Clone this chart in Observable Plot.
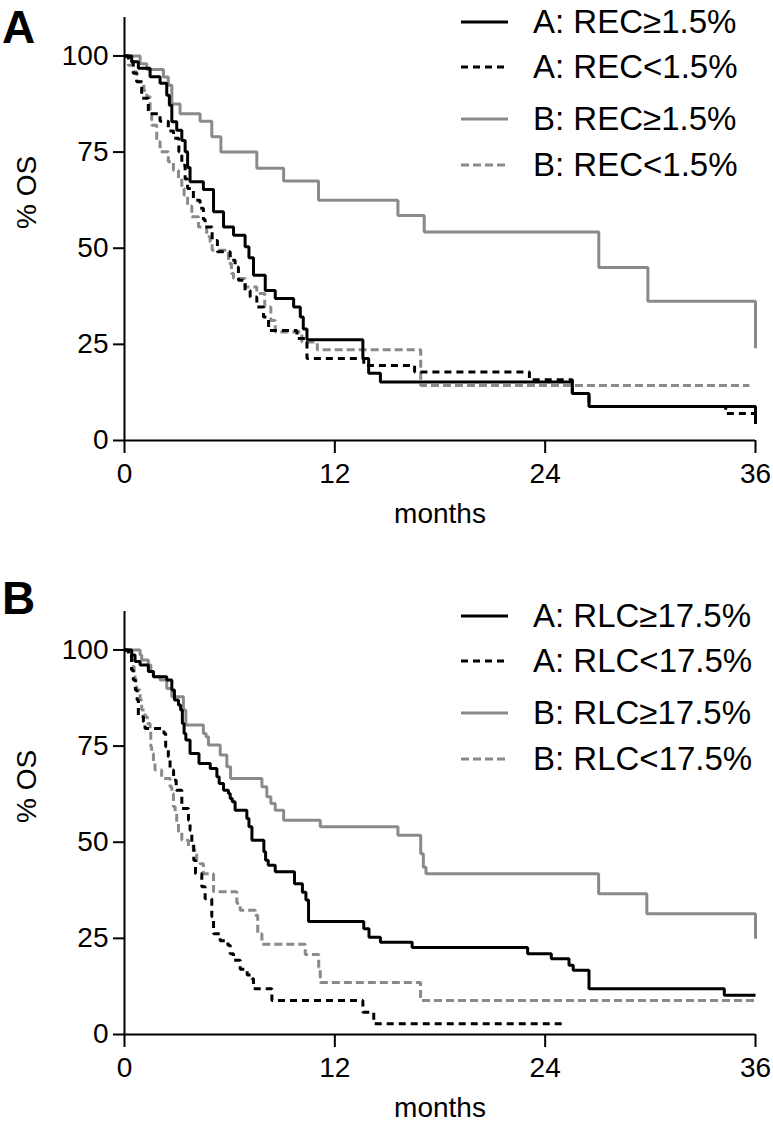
<!DOCTYPE html>
<html><head><meta charset="utf-8">
<script src="https://cdn.jsdelivr.net/npm/d3@7"></script>
<script src="https://cdn.jsdelivr.net/npm/@observablehq/plot@0.6"></script>
<style>
html,body{margin:0;padding:0;background:#fff;}
#wrap{position:relative;width:773px;height:1126px;overflow:hidden;font-family:"Liberation Sans",Arial,Helvetica,sans-serif;color:#000;}
#wrap > svg{display:block;}
.lg{position:absolute;left:533px;font-size:33px;line-height:40px;height:40px;white-space:nowrap;color:#000;}
.lbl{position:absolute;left:2px;font-weight:bold;font-size:46px;line-height:normal;color:#000;}
</style></head>
<body><div id="wrap"></div>
<script>
// ---- tick labels and legend labels ----
const xTicks = [0, 12, 24, 36];
const yTicks = [0, 25, 50, 75, 100];
const legendA = ["A: REC\u22651.5%", "A: REC<1.5%", "B: REC\u22651.5%", "B: REC<1.5%"];
const legendB = ["A: RLC\u226517.5%", "A: RLC<17.5%", "B: RLC\u226517.5%", "B: RLC<17.5%"];

// ---- Panel A: [months, % OS] step points ----
const aRecHi = [[0,100],[0.41,98.5],[0.79,96.8],[1.46,94.6],[2.03,92.9],[2.41,89.8],[2.56,87.2],[2.7,82.9],[2.98,80.7],[3.27,78],[3.46,75.1],[3.6,71],[3.74,67.3],[4.5,65.3],[5.08,59.5],[5.65,55.5],[6.22,53.4],[6.88,50.4],[7.1,47.5],[7.36,43],[8.03,39],[8.6,36.9],[9.65,34.7],[10.03,32.1],[10.2,29],[10.41,26.2],[13.6,21.3],[13.93,17.5],[14.6,15.2],[25.55,12.2],[26.5,8.85],[36,8.85],[36,4.3]];
const aRecLo = [[0,100],[0.22,98.5],[0.5,95.5],[0.7,93.3],[0.98,89],[1.36,85],[2.03,83],[2.5,80.5],[2.8,78.6],[3.1,75.1],[3.27,71.6],[3.46,68],[3.6,65.5],[3.93,62.5],[4.31,60.4],[4.5,57.5],[4.6,55.5],[5.0,52],[5.3,49.1],[6.03,46.9],[6.31,45.1],[6.5,41.7],[6.88,39],[7.17,37.3],[7.55,34.7],[7.93,32.1],[8.22,28.6],[9.84,26.5],[10.41,21.3],[13.65,19.5],[16.55,17.8],[23.1,15.8],[25.55,12.2],[26.5,8.85],[34.3,7],[36,7]];
const bRecHi = [[0,100],[0.89,98],[1.27,96.5],[2.22,94.5],[2.5,92.4],[2.7,87.5],[3.17,85],[4.31,83],[4.98,79],[5.5,75],[7.55,70.8],[9.08,67.5],[11.07,62.5],[15.6,58.5],[17.1,54.2],[27.06,45],[29.86,36.2],[36,36.2],[36,24]];
const bRecLo = [[0,100],[0.22,97.6],[0.5,95.9],[0.7,93.3],[1.1,91],[1.27,89.4],[1.46,85.5],[1.55,82],[1.84,77.7],[2.03,75.1],[2.5,72.5],[2.79,70.3],[3.08,68.1],[3.27,65.5],[3.4,63.8],[3.6,61],[3.84,58.2],[4.22,55.5],[4.69,53],[4.89,51.6],[5.0,49.5],[5.93,46],[6.1,43.4],[6.22,42.1],[6.88,39.9],[7.55,38.2],[8.0,34.7],[8.35,31.2],[8.6,28.2],[10.12,25.6],[11.0,23.6],[16.9,14.3],[35.65,14.3]];

// ---- Panel B ----
const aRlcHi = [[0,100],[0.41,98.7],[0.6,97],[0.89,96.1],[1.36,94.4],[1.65,93],[2.41,92.2],[2.7,89.6],[2.85,87],[3.08,85.7],[3.2,84.4],[3.3,80.9],[3.4,78.3],[3.5,76.6],[3.74,73.1],[4.25,70.5],[4.89,69.2],[5.27,67],[5.4,65.3],[5.65,63.5],[5.93,62.7],[6.03,61.4],[6.15,60.5],[6.31,58.3],[6.98,56.2],[7.1,54],[7.27,50.5],[7.95,47.5],[8.05,45.3],[8.2,44],[8.6,42.3],[9.7,39.2],[10.15,37],[10.35,35],[10.5,29.4],[13.65,27.5],[13.95,25.3],[14.6,24],[16.41,22.6],[23.0,21],[24.35,19.7],[25.36,18],[25.6,16.7],[26.5,11.9],[34.22,10.2],[36,10.2]];
const aRlcLo = [[0,100],[0.22,98.3],[0.4,94.8],[0.5,92.2],[0.62,89.6],[0.72,87],[0.79,82.6],[1.08,81.3],[1.17,79.6],[2.25,78.3],[2.35,74.8],[2.5,72.2],[2.6,68.8],[2.8,66.1],[2.95,63.5],[3.27,58.8],[3.65,55.7],[3.74,53.1],[3.84,49.7],[3.95,45.3],[4.05,41.8],[4.41,38.4],[4.6,35.3],[4.98,30.6],[5.08,26.2],[5.46,24.4],[5.9,23.2],[6.03,21],[6.22,19.3],[6.6,17],[7.0,15.5],[7.27,14.5],[7.36,11.9],[8.41,8.85],[13.6,5.8],[14.22,2.8],[25.07,2.8]];
const bRlcHi = [[0,100],[0.89,98.7],[0.98,97.4],[1.36,96.1],[1.5,94.4],[1.65,93],[2.03,92.2],[2.41,90],[2.7,87.8],[3.36,84.4],[3.5,80.5],[4.5,78.3],[4.65,77.4],[4.79,75.3],[5.46,72.7],[5.84,69.6],[6.05,66.6],[7.84,64.4],[8.12,61.8],[8.35,60.1],[8.6,58.3],[9.08,55.7],[11.17,54],[15.6,51.8],[16.9,47],[17.05,43.5],[17.2,41.8],[27.05,36.6],[29.8,31.4],[36,31.4],[36,24.9]];
const bRlcLo = [[0,100],[0.22,98.3],[0.41,97.4],[0.5,95.7],[0.55,94],[0.6,92.6],[0.65,90.4],[0.7,89.6],[0.89,87],[0.98,84.4],[1.17,82.6],[1.3,80.9],[1.46,79.2],[1.5,74.8],[1.55,73.1],[1.65,70.5],[1.74,68.8],[2.12,66.6],[2.6,64.4],[2.7,62.7],[2.79,59.2],[2.89,57.5],[2.98,54.9],[3.08,52.7],[3.27,50.5],[3.65,48.8],[3.93,47.9],[4.12,45.3],[4.31,44.4],[4.5,41.8],[5.08,37.1],[6.41,34.1],[6.6,32.3],[7.46,31],[7.6,26.2],[7.84,23.5],[10.31,20.8],[11.08,17.5],[11.17,13.5],[16.89,8.85],[36,8.85]];

// ---- rendering ----
const FONT = '"Liberation Sans", Arial, Helvetica, sans-serif';
const GRAY = "#8a8a8a";
const styles = [
  {stroke: "#000", dash: null},
  {stroke: "#000", dash: "7,5"},
  {stroke: GRAY, dash: null},
  {stroke: GRAY, dash: "8,4"}
];
const wrap = document.getElementById("wrap");

function panel(series, height) {
  const drawOrder = [3, 2, 1, 0];
  const lines = drawOrder.map(i => Plot.line(series[i].map(([t, s]) => ({t, s})), {
    x: "t", y: "s", curve: "step-after",
    stroke: styles[i].stroke, strokeWidth: 3,
    strokeDasharray: styles[i].dash || undefined,
    strokeLinecap: "butt", strokeLinejoin: "miter"
  }));
  return Plot.plot({
    width: 773, height,
    marginLeft: 124, marginRight: 18, marginTop: 17, marginBottom: height - 440,
    x: {domain: [0, 36]},
    y: {domain: [0, 110]},
    style: {fontFamily: FONT, color: "#000", background: "transparent", overflow: "visible"},
    marks: [
      ...lines,
      Plot.ruleX([0], {strokeWidth: 2}),
      Plot.ruleY([0], {strokeWidth: 2}),
      Plot.axisX({ticks: xTicks, tickSize: 13, tickPadding: 10, fontSize: 28, strokeWidth: 2, label: null}),
      Plot.axisY({ticks: yTicks, tickSize: 11, tickPadding: 5, fontSize: 28, strokeWidth: 2, label: null}),
      Plot.text(["% OS"], {frameAnchor: "left", dx: -97, rotate: -90, fontSize: 28}),
      Plot.text(["months"], {frameAnchor: "bottom", dy: 82, fontSize: 28})
    ]
  });
}

wrap.appendChild(panel([aRecHi, aRecLo, bRecHi, bRecLo], 594));
wrap.appendChild(panel([aRlcHi, aRlcLo, bRlcHi, bRlcLo], 532));

function legend(labels, offset) {
  const rowsY = [21.5, 67, 118.5, 165];
  labels.forEach((lab, i) => {
    const y = offset + rowsY[i];
    const sw = d3.select(wrap).append("svg")
      .attr("width", 47).attr("height", 6)
      .style("position", "absolute").style("left", "461px").style("top", (y - 3) + "px");
    sw.append("line").attr("x1", 0).attr("x2", 47).attr("y1", 3).attr("y2", 3)
      .attr("stroke", styles[i].stroke).attr("stroke-width", 3)
      .attr("stroke-dasharray", styles[i].dash);
    d3.select(wrap).append("div").attr("class", "lg")
      .style("top", (y - 19.6) + "px").text(lab);
  });
}
legend(legendA, 0);
legend(legendB, 594);

d3.select(wrap).append("div").attr("class", "lbl").style("top", "0px").text("A");
d3.select(wrap).append("div").attr("class", "lbl").style("top", "571px").text("B");
</script>
</body></html>
